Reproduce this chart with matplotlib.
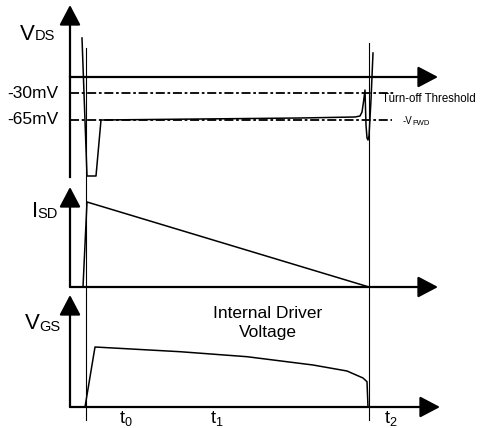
import matplotlib
matplotlib.use("Agg")
import matplotlib.pyplot as plt

plt.rcParams['font.family'] = ['Liberation Sans', 'DejaVu Sans']

# time axis: arbitrary units, 0 at the vertical axes
t_end = 368

# V_DS waveform (arbitrary units, 0 = zero line)
vds_t = [12, 17, 26, 31, 130, 230, 285, 290, 292, 293.5, 295, 296, 297, 298, 299, 301, 303]
vds_v = [39, -99, -99, -43, -42, -41, -40, -39, -35, -25, -13, -48, -61, -63, -59, -23, 24]
vds_levels = [-16, -43]
vds_level_labels = ["-30mV", "-65mV"]
vds_level_ends = [325, 322]

# I_SD waveform
isd_t = [13, 17, 299]
isd_v = [0, 85, 0]

# V_GS waveform (internal driver voltage)
vgs_t = [15, 25, 110, 177, 243, 277, 293, 297, 298]
vgs_v = [0, 60, 55.3, 50.3, 42, 36, 29, 25.3, 0]

# time markers
marker_t = [15.5, 299]
time_labels = [r"$\mathregular{t_0}$", r"$\mathregular{t_1}$", r"$\mathregular{t_2}$"]
time_label_t = [56, 147, 321]

fig = plt.figure(figsize=(4.8, 4.28), dpi=100)
H = 428.0


def panel(top, bot, base):
    ax = fig.add_axes([0, (H - bot) / H, 1, (bot - top) / H])
    ax.set_xlim(-70, 410)
    ax.set_ylim(base - bot, base - top)
    ax.axis('off')
    ax.patch.set_alpha(0)
    return ax


def arrow(ax, start, tip):
    ax.annotate('', xy=tip, xytext=start, annotation_clip=False,
                arrowprops=dict(arrowstyle='-|>,head_length=0.95,head_width=0.5',
                                mutation_scale=13, lw=1.6, color='black',
                                shrinkA=0, shrinkB=0))


wave = dict(color='black', lw=1.1, clip_on=False)

# V_DS panel
ax1 = panel(0, 182, 77)
ax1.plot([0, 0], [-100, 0], color='black', lw=1.6, clip_on=False)
arrow(ax1, (0, 0), (0, 72))
arrow(ax1, (0, 0), (t_end, 0))
for lv, lab, te in zip(vds_levels, vds_level_labels, vds_level_ends):
    ax1.plot([0, te], [lv, lv], color='black', lw=1.3,
             linestyle=(0, (5, 1.5, 1.5, 1.5)), clip_on=False)
    ax1.text(-12, lv, lab, ha='right', va='center', fontsize=12.5)
ax1.plot(vds_t, vds_v, **wave)
ax1.text(-50, 37, "V", ha='left', va='baseline', fontsize=16)
ax1.text(-35, 36.5, "DS", ha='left', va='baseline', fontsize=10.5)
ax1.text(312, -21.5, "Turn-off Threshold", ha='left', va='center', fontsize=8.3)
ax1.text(333, -47, "-V", ha='left', va='baseline', fontsize=7)
ax1.text(342, -48, "FWD", ha='left', va='baseline', fontsize=5.5)

# I_SD panel
ax2 = panel(182, 292, 287)
arrow(ax2, (0, 0), (0, 100))
arrow(ax2, (0, 0), (t_end, 0))
ax2.plot(isd_t, isd_v, **wave)
ax2.text(-38, 70, "I", ha='left', va='baseline', fontsize=16)
ax2.text(-32.5, 68.5, "SD", ha='left', va='baseline', fontsize=10.5)

# V_GS panel
ax3 = panel(292, 428, 407)
arrow(ax3, (0, 0), (0, 112))
arrow(ax3, (0, 0), (t_end + 2, 0))
ax3.plot(vgs_t, vgs_v, **wave)
ax3.text(-45, 78, "V", ha='left', va='baseline', fontsize=16)
ax3.text(-31, 76, "GS", ha='left', va='baseline', fontsize=10.5)
ax3.text(198, 93.5, "Internal Driver", ha='center', va='center', fontsize=12.5)
ax3.text(198, 74, "Voltage", ha='center', va='center', fontsize=12.5)

# vertical time markers spanning all panels
ax3.plot([marker_t[0], marker_t[0]], [-13, 359], color='black', lw=0.8, clip_on=False)
ax3.plot([marker_t[1], marker_t[1]], [-13, 364], color='black', lw=0.8, clip_on=False)
for tl, tt in zip(time_labels, time_label_t):
    ax3.text(tt, -12, tl, ha='center', va='center', fontsize=13)

fig.savefig("out.png", dpi=100)
